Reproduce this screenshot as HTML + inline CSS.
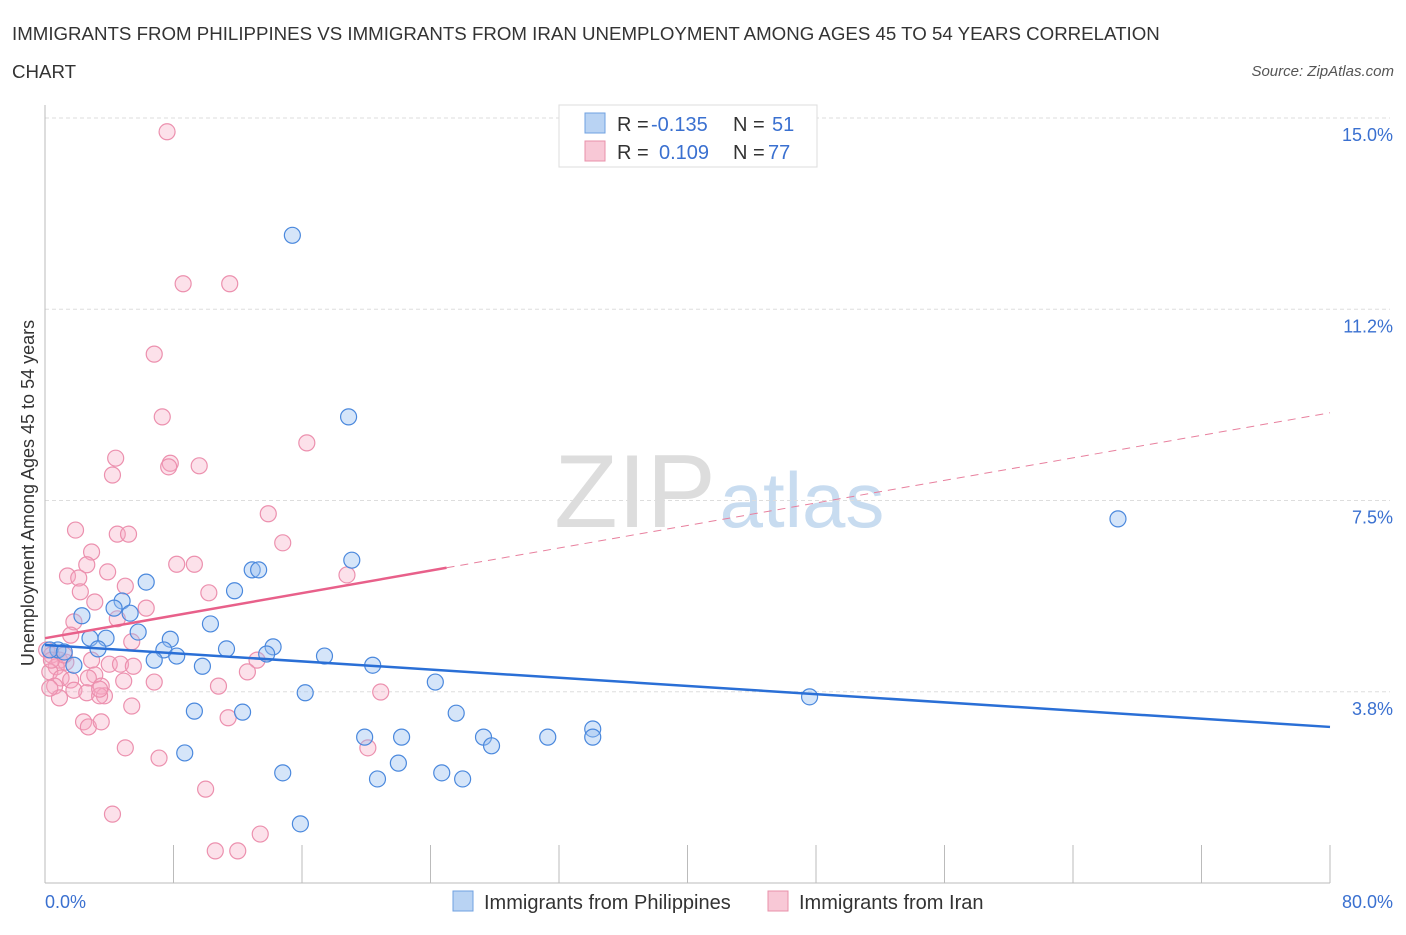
<!DOCTYPE html>
<html><head><meta charset="utf-8"><style>
body{margin:0;background:#fff;font-family:"Liberation Sans",sans-serif}
svg text{font-family:"Liberation Sans",sans-serif}
</style></head><body>
<svg width="1406" height="930" viewBox="0 0 1406 930" xmlns="http://www.w3.org/2000/svg">
<text x="12" y="40" font-size="18.7" fill="#333">IMMIGRANTS FROM PHILIPPINES VS IMMIGRANTS FROM IRAN UNEMPLOYMENT AMONG AGES 45 TO 54 YEARS CORRELATION</text>
<text x="12" y="78" font-size="18.7" fill="#333">CHART</text>
<text x="1394" y="76" font-size="15" fill="#555" font-style="italic" text-anchor="end">Source: ZipAtlas.com</text>
<text x="635" y="527" font-size="104" fill="#ddd" font-family="Liberation Serif" text-anchor="middle">ZIP</text>
<text x="802" y="527" font-size="78" fill="#c8dcf0" text-anchor="middle">atlas</text>
<g id="grid"></g>
<g id="axes"></g>
<g id="pts"></g>
<g id="lines"></g>
<text transform="translate(34,493) rotate(-90)" font-size="18" fill="#333" text-anchor="middle">Unemployment Among Ages 45 to 54 years</text>
<g>
<rect x="559" y="105" width="258" height="62" fill="#fff" stroke="#ddd"/>
<rect x="585" y="113" width="20" height="20" fill="#b9d3f3" stroke="#6fa0e0"/>
<rect x="585" y="141" width="20" height="20" fill="#f8c8d6" stroke="#e890aa"/>
<text x="617" y="131" font-size="20" fill="#333">R =</text>
<text x="651" y="131" font-size="20" fill="#3a70d0">-0.135</text>
<text x="733" y="131" font-size="20" fill="#333">N =</text>
<text x="772" y="131" font-size="20" fill="#3a70d0">51</text>
<text x="617" y="159" font-size="20" fill="#333">R =</text>
<text x="659" y="159" font-size="20" fill="#3a70d0">0.109</text>
<text x="733" y="159" font-size="20" fill="#333">N =</text>
<text x="768" y="159" font-size="20" fill="#3a70d0">77</text>
</g>
<g>
<rect x="453" y="891" width="20" height="20" fill="#b9d3f3" stroke="#6fa0e0"/>
<text x="484" y="909" font-size="20" fill="#333">Immigrants from Philippines</text>
<rect x="768" y="891" width="20" height="20" fill="#f8c8d6" stroke="#e890aa"/>
<text x="799" y="909" font-size="20" fill="#333">Immigrants from Iran</text>
</g>
</svg>
<script>
const yTicks=[3.75,7.5,11.25,15];
const yTickLabels=["3.8%","7.5%","11.2%","15.0%"];
const xTickLabels=["0.0%","80.0%"];
const blueX=[15.4,18.9,66.8,19.1,6.3,12.9,13.3,11.8,4.8,4.3,5.3,2.3,10.3,5.8,2.8,3.8,7.8,3.3,7.4,0.8,0.3,1.2,8.2,6.8,11.3,14.2,13.8,9.8,17.4,20.4,1.8,24.3,16.2,47.6,9.3,12.3,25.6,34.1,19.9,22.2,27.3,31.3,34.1,27.8,8.7,22.0,14.8,24.7,20.7,26.0,15.9];
const blueY=[12.7,9.14,7.14,6.33,5.90,6.14,6.14,5.73,5.53,5.39,5.29,5.24,5.08,4.92,4.80,4.80,4.78,4.59,4.57,4.57,4.57,4.53,4.45,4.37,4.59,4.63,4.49,4.25,4.45,4.27,4.27,3.94,3.73,3.65,3.37,3.35,3.33,3.02,2.86,2.86,2.86,2.86,2.86,2.69,2.55,2.35,2.16,2.16,2.04,2.04,1.16];
const pinkX=[7.6,8.6,11.5,6.8,7.3,16.3,4.4,7.8,7.7,9.6,4.2,13.9,1.9,4.5,5.2,14.8,2.9,8.2,9.3,2.6,1.4,2.1,3.9,18.8,5.0,10.2,2.2,3.1,6.3,4.5,1.8,1.6,5.4,0.1,0.4,0.9,1.3,0.7,2.9,4.0,4.7,5.5,13.2,12.6,3.1,0.3,1.0,1.6,2.7,0.6,1.8,4.9,6.8,10.8,3.5,2.6,3.7,3.4,0.9,20.9,5.4,2.4,2.7,3.5,11.4,5.0,20.1,7.1,10.0,4.2,13.4,10.6,12.0,0.4,0.3,1.2,3.4];
const pinkY=[14.73,11.75,11.75,10.37,9.14,8.63,8.33,8.23,8.16,8.18,8.0,7.24,6.92,6.84,6.84,6.67,6.49,6.25,6.25,6.24,6.02,5.98,6.10,6.04,5.82,5.69,5.71,5.51,5.39,5.18,5.12,4.86,4.73,4.57,4.47,4.37,4.33,4.24,4.37,4.29,4.29,4.25,4.37,4.14,4.08,4.14,4.02,3.98,4.02,3.86,3.78,3.96,3.94,3.86,3.86,3.73,3.67,3.67,3.63,3.745,3.47,3.16,3.06,3.16,3.24,2.65,2.65,2.45,1.84,1.35,0.96,0.63,0.63,4.37,3.82,4.47,3.8];
const blueFit=[4.667,3.06];
const pinkFit=[4.80,9.22];
const pinkSolidEnd=25;
const NS="http://www.w3.org/2000/svg";
const X=v=>45+v*(1285/80), Y=v=>883-v*51.0;
function mk(t,a,p){const e=document.createElementNS(NS,t);for(const k in a)e.setAttribute(k,a[k]);document.getElementById(p).appendChild(e);return e;}
yTicks.forEach((t,i)=>{
 const g=mk('line',{x1:45,x2:1390,y1:Y(t),y2:Y(t),stroke:'#ddd','stroke-dasharray':'4,3'},'grid');
 
 
 const l=mk('text',{x:1393,y:Y(t)+23,'font-size':18,fill:'#3a70d0','text-anchor':'end'},'axes');
 l.textContent=yTickLabels[i];
 
 
});
mk('line',{x1:45,x2:45,y1:105,y2:883,stroke:'#bbb'},'axes');
mk('line',{x1:45,x2:1330,y1:883,y2:883,stroke:'#bbb'},'axes');
for(let i=1;i<=10;i++){mk('line',{x1:X(i*8),x2:X(i*8),y1:845,y2:883,stroke:'#bbb'},'axes');}
[[0,'start',45],[80,'end',1393]].forEach((d,i)=>{
 const l=mk('text',{x:d[2],y:908,'font-size':18,fill:'#3a70d0','text-anchor':d[1]},'axes');
 l.textContent=xTickLabels[i];
 
 
});
pinkX.forEach((x,i)=>{
 const c=mk('circle',{cx:X(x),cy:Y(pinkY[i]),r:8,fill:'rgba(245,170,195,0.35)',stroke:'#ec90ae','stroke-width':1.2},'pts');
 
 
});
blueX.forEach((x,i)=>{
 const c=mk('circle',{cx:X(x),cy:Y(blueY[i]),r:8,fill:'rgba(150,190,240,0.4)',stroke:'#4a88dd','stroke-width':1.2},'pts');
 
 
});
const pf=v=>pinkFit[0]+(pinkFit[1]-pinkFit[0])*v/80;
const bl=mk('line',{x1:X(0),y1:Y(blueFit[0]),x2:X(80),y2:Y(blueFit[1]),stroke:'#2a6fd6','stroke-width':2.5},'lines');


const ps=mk('line',{x1:X(0),y1:Y(pf(0)),x2:X(pinkSolidEnd),y2:Y(pf(pinkSolidEnd)),stroke:'#e8608a','stroke-width':2.5},'lines');


const pd=mk('line',{x1:X(pinkSolidEnd),y1:Y(pf(pinkSolidEnd)),x2:X(80),y2:Y(pf(80)),stroke:'#e8809e','stroke-width':1,'stroke-dasharray':'8,6'},'lines');


</script>
</body></html>
